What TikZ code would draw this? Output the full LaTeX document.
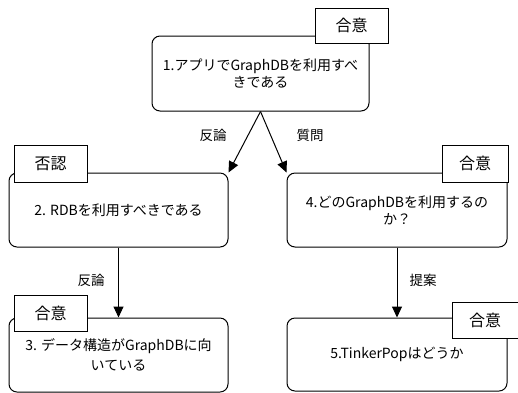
\documentclass[tikz,border=0pt]{standalone}
\usepackage{fontspec}
\setmainfont{Noto Sans CJK JP}
\usetikzlibrary{arrows.meta}
\tikzset{
  claim/.style={draw=black, line width=1pt, rounded corners=8pt, fill=white, align=center, inner sep=0pt, font=\fontsize{14}{17}\selectfont},
  tag/.style={draw=black, line width=1pt, fill=white, inner sep=0pt, font=\fontsize{16}{18}\selectfont},
  rel/.style={line width=1pt, -{Triangle[length=11pt,width=10pt]}},
  lab/.style={inner sep=0pt, font=\fontsize{13.5}{16}\selectfont}
}
\begin{document}
\begin{tikzpicture}[x=1pt,y=-1pt]
\useasboundingbox (0,0) rectangle (518,392);
\fill[white] (0,0) rectangle (518,392);
\node[claim, minimum width=217pt, minimum height=75pt] (n1) at (260.5,73.5) {1.アプリでGraphDBを利用すべ\\きである};
\node[claim, minimum width=219pt, minimum height=74pt] (n2) at (118.5,210) {2. RDBを利用すべきである};
\node[claim, minimum width=220pt, minimum height=74pt] (n4) at (397,210) {4.どのGraphDBを利用するの\\か？};
\node[claim, minimum width=219pt, minimum height=74pt, font=\fontsize{14}{20}\selectfont] (n3) at (118.5,355) {3. データ構造がGraphDBに向\\いている};
\node[claim, minimum width=220pt, minimum height=73pt] (n5) at (397,354.5) {5.TinkerPopはどうか};
\node[tag, minimum width=73pt, minimum height=35pt] (t1) at (351.5,25.5) {合意};
\node[tag, minimum width=73pt, minimum height=37pt] (t2) at (50.5,163.5) {否認};
\node[tag, minimum width=66pt, minimum height=37pt] (t4) at (475,163.5) {合意};
\node[tag, minimum width=73pt, minimum height=36pt] (t3) at (50.5,313) {合意};
\node[tag, minimum width=66pt, minimum height=36pt] (t5) at (485,320) {合意};
\draw[rel] (n1.south) -- (n2.north east);
\draw[rel] (n1.south) -- (n4.north west);
\draw[rel] (n2.south) -- (n3.north);
\draw[rel] (n4.south) -- (n5.north);
\node[lab] (l1) at (213,135) {反論};
\node[lab] (l2) at (310,135) {質問};
\node[lab] (l3) at (91,280) {反論};
\node[lab] (l4) at (423,280) {提案};
\end{tikzpicture}
\end{document}
